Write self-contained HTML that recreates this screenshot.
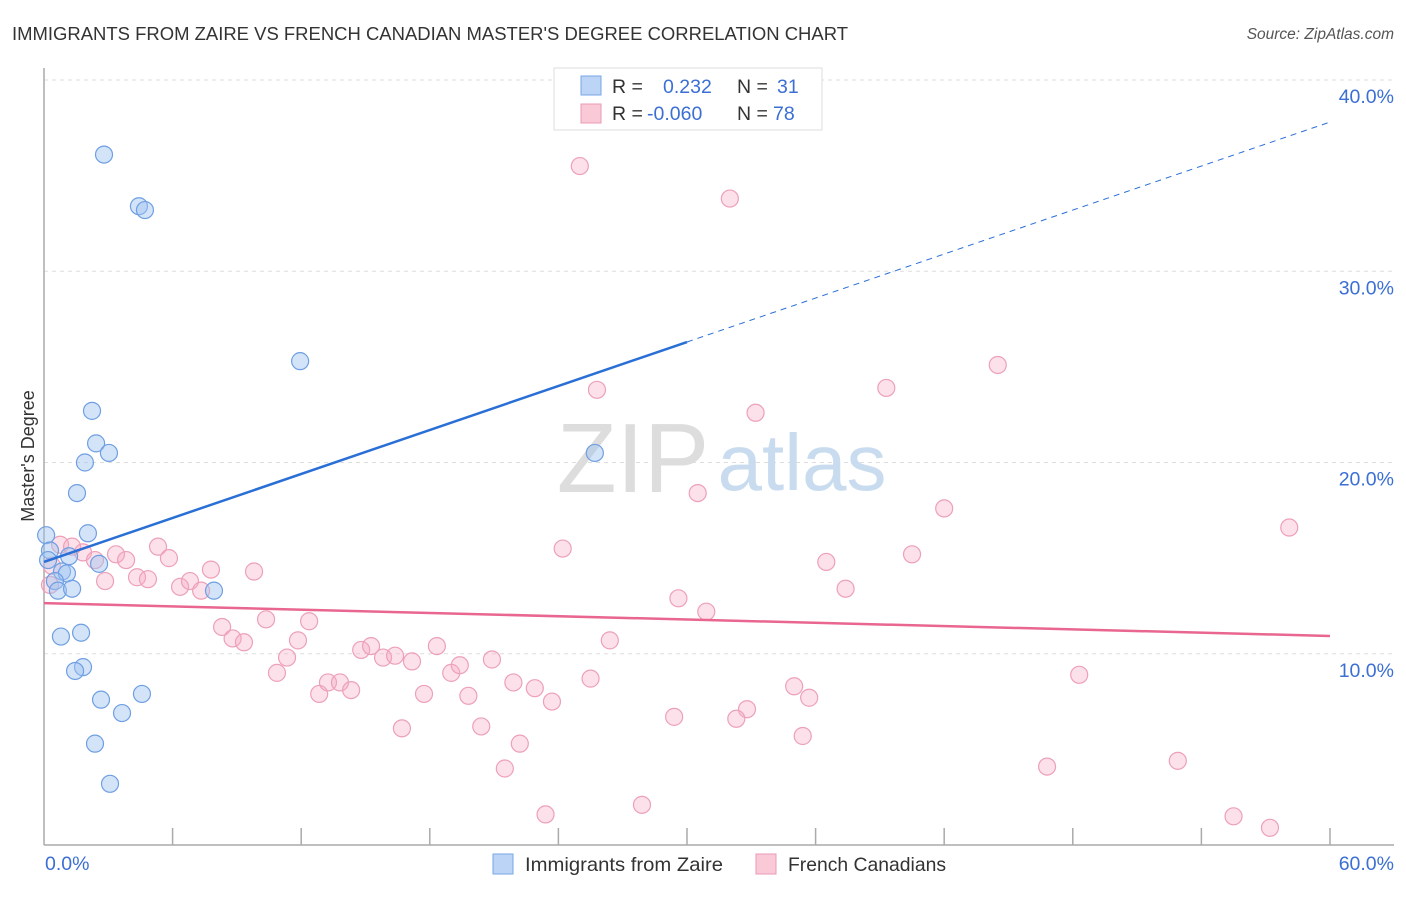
<!DOCTYPE html>
<html><head><meta charset="utf-8"><style>
body{margin:0;background:#fff;font-family:"Liberation Sans",sans-serif;}
svg text{font-family:"Liberation Sans",sans-serif;}
</style></head><body>
<svg id="chart" width="1406" height="892" viewBox="0 0 1406 892" xmlns="http://www.w3.org/2000/svg">
<text x="12" y="40" font-size="18" fill="#333" textLength="836" lengthAdjust="spacingAndGlyphs">IMMIGRANTS FROM ZAIRE VS FRENCH CANADIAN MASTER'S DEGREE CORRELATION CHART</text>
<text x="1394" y="39" font-size="15.5" fill="#555" font-style="italic" text-anchor="end">Source: ZipAtlas.com</text>
<g id="grid"></g>
<g>
<text x="633" y="492" font-size="98" fill="#ddd" text-anchor="middle" font-family="Liberation Serif, serif">ZIP</text>
<text x="802" y="490" font-size="80" fill="#c9dcef" text-anchor="middle">atlas</text>
</g>
<line x1="44" y1="68" x2="44" y2="845" stroke="#aaa" stroke-width="1.5"/>
<line x1="44" y1="845" x2="1394" y2="845" stroke="#aaa" stroke-width="1.5"/>
<text transform="translate(34,456) rotate(-90)" font-size="18" fill="#333" text-anchor="middle">Master's Degree</text>
<text x="45" y="870" font-size="19.5" fill="#3b6fd4">0.0%</text>
<text x="1394" y="870" font-size="19.5" fill="#3b6fd4" text-anchor="end">60.0%</text>
<g id="pts"></g>
<g id="trends"></g>
<g>
<rect x="554" y="68" width="268" height="62" fill="#fff" stroke="#ddd"/>
<rect x="581" y="76" width="20" height="19" fill="#bcd4f5" stroke="#7aa6e8"/>
<rect x="581" y="104" width="20" height="19" fill="#f9c9d8" stroke="#eb9ab4"/>
<text x="612" y="93" font-size="19.5" fill="#333">R =</text>
<text x="663" y="93" font-size="19.5" fill="#3b6fd4">0.232</text>
<text x="737" y="93" font-size="19.5" fill="#333">N =</text>
<text x="777" y="93" font-size="19.5" fill="#3b6fd4">31</text>
<text x="612" y="120" font-size="19.5" fill="#333">R =</text>
<text x="647" y="120" font-size="19.5" fill="#3b6fd4">-0.060</text>
<text x="737" y="120" font-size="19.5" fill="#333">N =</text>
<text x="773" y="120" font-size="19.5" fill="#3b6fd4">78</text>
</g>
<g>
<rect x="493" y="854" width="20" height="20" fill="#bcd4f5" stroke="#7aa6e8"/>
<text x="525" y="871" font-size="19.5" fill="#333" textLength="198" lengthAdjust="spacingAndGlyphs">Immigrants from Zaire</text>
<rect x="756" y="854" width="20" height="20" fill="#f9c9d8" stroke="#eb9ab4"/>
<text x="788" y="871" font-size="19.5" fill="#333" textLength="158" lengthAdjust="spacingAndGlyphs">French Canadians</text>
</g>
</svg>
<script>
const yTicks=[10,20,30,40];
const yTickLabels=["10.0%","20.0%","30.0%","40.0%"];
const xTicks=[0,6,12,18,24,30,36,42,48,54,60];
const zaireX=[2.8,4.43,4.71,11.95,2.24,2.43,3.03,1.91,1.54,25.7,0.1,2.05,0.28,1.17,2.57,0.84,1.07,0.51,0.65,1.31,7.93,1.73,0.79,1.82,1.45,4.57,2.66,3.64,2.38,3.08,0.19];
const zaireY=[36.1,33.4,33.2,25.3,22.7,21.0,20.5,20.0,18.4,20.5,16.2,16.3,15.4,15.1,14.7,14.3,14.2,13.8,13.3,13.4,13.3,11.1,10.9,9.3,9.1,7.9,7.6,6.9,5.3,3.2,14.9];
const frenchX=[25.0,32.0,44.5,39.3,25.8,33.2,30.5,42.0,58.1,24.2,40.5,36.5,37.4,29.6,30.9,26.4,48.3,35.0,35.7,32.8,32.3,29.4,35.4,46.8,52.9,27.9,23.4,55.5,57.2,0.75,1.31,1.82,2.38,3.36,3.83,5.32,5.83,2.85,4.34,4.85,6.35,6.81,7.33,7.79,9.8,8.31,8.8,9.33,10.36,11.85,12.37,11.34,10.87,12.84,13.25,13.81,14.33,14.8,15.26,15.82,16.38,17.17,16.7,17.73,18.33,19.0,19.4,19.8,20.4,20.9,21.9,22.9,23.7,22.2,21.5,25.5,0.37,0.28];
const frenchY=[35.5,33.8,25.1,23.9,23.8,22.6,18.4,17.6,16.6,15.5,15.2,14.8,13.4,12.9,12.2,10.7,8.9,8.3,7.7,7.1,6.6,6.7,5.7,4.1,4.4,2.1,1.6,1.5,0.9,15.7,15.6,15.3,14.9,15.2,14.9,15.6,15.0,13.8,14.0,13.9,13.5,13.8,13.3,14.4,14.3,11.4,10.8,10.6,11.8,10.7,11.7,9.8,9.0,7.9,8.5,8.5,8.1,10.2,10.4,9.8,9.9,9.6,6.1,7.9,10.4,9.0,9.4,7.8,6.2,9.7,8.5,8.2,7.5,5.3,4.0,8.7,14.6,13.6];
const zaireTrend=[14.8,37.8];
const frenchTrend=[12.65,10.93];
const NS="http://www.w3.org/2000/svg";
const sx=v=>44+v*21.433;
const sy=v=>845-v*19.125;
function mk(tag,attrs,parent){const e=document.createElementNS(NS,tag);for(const k in attrs)e.setAttribute(k,attrs[k]);parent.appendChild(e);return e;}
const grid=document.getElementById('grid');
yTicks.forEach((t,i)=>{
 const l=mk('line',{x1:44,x2:1394,y1:sy(t),y2:sy(t),stroke:'#ddd','stroke-dasharray':'4,4'},grid);
 
 
 const tx=mk('text',{x:1394,y:sy(t)+23,'font-size':19.5,fill:'#3b6fd4','text-anchor':'end'},grid);
 tx.textContent=yTickLabels[i];
 
 
});
xTicks.slice(1).forEach(t=>{
 const l=mk('line',{x1:sx(t),x2:sx(t),y1:828,y2:845,stroke:'#aaa','stroke-width':1.5},grid);
 
 
});
const pts=document.getElementById('pts');
frenchX.forEach((x,i)=>{
 const c=mk('circle',{cx:sx(x),cy:sy(frenchY[i]),r:8.5,fill:'rgba(246,170,195,0.35)',stroke:'#eda0b9','stroke-width':1.2},pts);
 
 
});
zaireX.forEach((x,i)=>{
 const c=mk('circle',{cx:sx(x),cy:sy(zaireY[i]),r:8.5,fill:'rgba(160,195,240,0.45)',stroke:'#6f9fe3','stroke-width':1.2},pts);
 
 
});
const tr=document.getElementById('trends');
const zAt=x=>zaireTrend[0]+(zaireTrend[1]-zaireTrend[0])*x/60;
let l1=mk('line',{x1:sx(0),y1:sy(zAt(0)),x2:sx(30),y2:sy(zAt(30)),stroke:'#2a6fd6','stroke-width':2.5},tr);


let l2=mk('line',{x1:sx(30),y1:sy(zAt(30)),x2:sx(60),y2:sy(zAt(60)),stroke:'#2a6fd6','stroke-width':1,'stroke-dasharray':'6,5'},tr);


let l3=mk('line',{x1:sx(0),y1:sy(frenchTrend[0]),x2:sx(60),y2:sy(frenchTrend[1]),stroke:'#e8668f','stroke-width':2.5},tr);


</script>
</body></html>
